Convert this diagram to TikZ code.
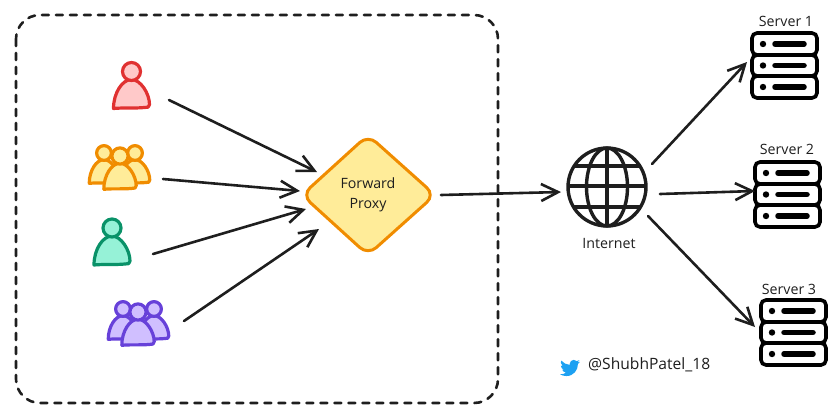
\documentclass[tikz,border=0pt]{standalone}
\usepackage{fontspec}
\setmainfont{Open Sans}
\usetikzlibrary{arrows.meta}
\definecolor{ink}{HTML}{1E1E1E}
\definecolor{redS}{HTML}{E03131}\definecolor{redF}{HTML}{FFC9C9}
\definecolor{yelS}{HTML}{F08C00}\definecolor{yelF}{HTML}{FFEC99}
\definecolor{grnS}{HTML}{099268}\definecolor{grnF}{HTML}{96F2D7}
\definecolor{purS}{HTML}{6741D9}\definecolor{purF}{HTML}{D0BFFF}
\definecolor{bird}{HTML}{1DA1F2}
\tikzset{
  conn/.style={draw=ink,line width=2.6pt,line cap=round,-{Straight Barb[length=17pt,width=17pt,line width=2.6pt]}},
  lbl/.style={text=ink,font=\fontsize{14.2}{16}\selectfont,inner sep=0pt,align=center},
  ptr/.style={line width=3.2pt,line join=round},
  srv/.style={draw=black,line width=3.6pt,rounded corners=5pt,fill=white},
  srvbar/.style={draw=black,line width=5.5pt,line cap=round},
  globe/.style={draw=ink,line width=3.4pt}
}
\newcommand{\personIcon}[5]{% x,y,scale,stroke,fill
  \begin{scope}[shift={(#1,#2)},scale=#3]
    \path[ptr,draw=#4,fill=#5] (-18,37) .. controls (-18,21) and (-9,8) .. (0,8)
      .. controls (9,8) and (18,22) .. (18,33) .. controls (18,36) and (16,36) .. (13,36)
      .. controls (3,37) and (-8,36) .. cycle;
    \path[ptr,draw=#4,fill=#5] (0,0) circle (9);
  \end{scope}}
\newcommand{\serverIcon}[2]{% left, top
  \begin{scope}[shift={(#1,#2)}]
    \draw[srv] (0,0) rectangle (65,22);
    \draw[srv] (0,22) rectangle (65,43);
    \draw[srv] (0,43) rectangle (65,65);
    \fill[black] (11,11) circle (3.2) (11,32.5) circle (3.2) (11,54) circle (3.2);
    \draw[srvbar] (23,11) -- (52,11);
    \draw[srvbar] (23,32.5) -- (52,32.5);
    \draw[srvbar] (23,54) -- (52,54);
  \end{scope}}
\begin{document}
\begin{tikzpicture}[x=1pt,y=-1pt]
\useasboundingbox (0,0) rectangle (836,413);
\draw[ink,line width=2.6pt,line cap=round,dash pattern=on 7pt off 7pt,rounded corners=24pt] (16,15) rectangle (498,403);

\personIcon{131.5}{71.5}{1}{redS}{redF}
\personIcon{104}{153}{.82}{yelS}{yelF}
\personIcon{135}{153}{.82}{yelS}{yelF}
\personIcon{120}{156}{.9}{yelS}{yelF}
\personIcon{112}{228}{1}{grnS}{grnF}
\personIcon{123}{309}{.82}{purS}{purF}
\personIcon{154}{309}{.82}{purS}{purF}
\personIcon{138}{312}{.9}{purS}{purF}

\path[draw=yelS,fill=yelF,line width=3pt,rounded corners=11pt] (302,195) -- (368,135) -- (435,195) -- (368,255) -- cycle;
\node[lbl] (proxy) at (368,194.5) {Forward\\[4pt]Proxy};

\begin{scope}[shift={(607,187)}]
  \draw[globe] (0,0) circle (39);
  \draw[globe] (0,0) ellipse (20.5 and 39);
  \draw[globe] (0,-39) -- (0,39);
  \draw[globe] (-33,-21) -- (33,-21);
  \draw[globe] (-39,-1) -- (39,-1);
  \draw[globe] (-33,20) -- (33,20);
\end{scope}
\node[lbl] (internet) at (609,243) {Internet};

\serverIcon{752}{33}
\serverIcon{755}{162}
\serverIcon{761}{300}
\node[lbl] (s1) at (786,21) {Server 1};
\node[lbl] (s2) at (787,149) {Server 2};
\node[lbl] (s3) at (789,289) {Server 3};

\coordinate (u1) at (169,100);
\coordinate (u2) at (163,179);
\coordinate (u3) at (153,254);
\coordinate (u4) at (184,321);
\coordinate (p1) at (317,172);
\coordinate (p2) at (300,191);
\coordinate (p3) at (306,209);
\coordinate (p4) at (319,229);
\coordinate (pout) at (441,195);
\coordinate (inet) at (561,192);
\coordinate (o1) at (652,164);
\coordinate (o2) at (660,194);
\coordinate (o3) at (648,216);
\coordinate (t1) at (747,62);
\coordinate (t2) at (755,191);
\coordinate (t3) at (755,327);
\draw[conn] (u1) -- (p1);
\draw[conn] (u2) -- (p2);
\draw[conn] (u3) -- (p3);
\draw[conn] (u4) -- (p4);
\draw[conn] (pout) -- (inet);
\draw[conn] (o1) -- (t1);
\draw[conn] (o2) -- (t2);
\draw[conn] (o3) -- (t3);

\begin{scope}[shift={(560,358)},scale=.83]
\fill[bird] (23.95,4.57) .. controls (23,5) and (22.1,5.25) .. (21.13,5.35)
 .. controls (22.15,4.75) and (22.9,3.8) .. (23.29,2.62)
 .. controls (22.34,3.18) and (21.28,3.58) .. (20.16,3.81)
 .. controls (19.2,2.8) and (18,2.2) .. (16.6,2.2)
 .. controls (13.9,2.2) and (11.7,4.4) .. (11.7,7.1)
 .. controls (11.7,7.5) and (11.7,7.9) .. (11.85,8.26)
 .. controls (7.69,8.1) and (4.07,6.13) .. (1.64,3.16)
 .. controls (1.22,3.9) and (.97,4.75) .. (.97,5.64)
 .. controls (.97,7.35) and (1.84,8.85) .. (3.16,9.73)
 .. controls (2.35,9.7) and (1.6,9.48) .. (.93,9.11)
 -- (.93,9.17)
 .. controls (.93,11.55) and (2.63,13.54) .. (4.88,14)
 .. controls (4.15,14.2) and (3.4,14.23) .. (2.67,14.08)
 .. controls (3.3,16.03) and (5.1,17.45) .. (7.27,17.5)
 .. controls (5.56,18.84) and (3.43,19.6) .. (1.17,19.6)
 .. controls (.78,19.6) and (.39,19.58) .. (0,19.54)
 .. controls (2.19,20.93) and (4.77,21.75) .. (7.56,21.75)
 .. controls (16.61,21.75) and (21.55,14.25) .. (21.55,7.77)
 .. controls (21.55,7.55) and (21.55,7.35) .. (21.54,7.13)
 .. controls (22.5,6.44) and (23.34,5.57) .. (24,4.59) -- cycle;
\end{scope}
\node[lbl,font=\fontsize{15.6}{18}\selectfont,anchor=west] (handle) at (588,365) {@ShubhPatel\_18};
\end{tikzpicture}
\end{document}
